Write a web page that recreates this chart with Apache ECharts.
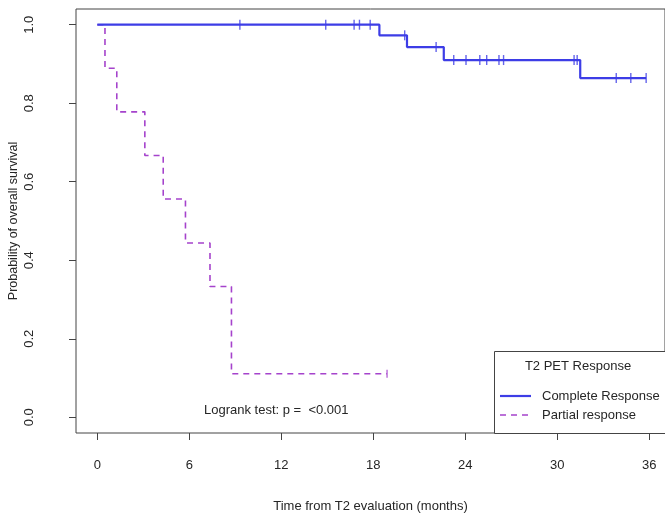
<!DOCTYPE html>
<html>
<head>
<meta charset="utf-8">
<script src="https://cdn.jsdelivr.net/npm/echarts@6/dist/echarts.min.js"></script>
<style>
html,body{margin:0;padding:0;background:#fff;}
#chart{width:665px;height:519px;}
</style>
</head>
<body>
<div id="chart"></div>
<script>
// Kaplan-Meier step points (time in months, survival probability)
var completeTimes = [0, 18.4, 20.2, 22.6, 31.5, 35.8];
var completeSurv  = [1.0, 0.973, 0.943, 0.910, 0.864, 0.864];
var partialTimes  = [0, 0.5, 1.27, 3.1, 4.3, 5.75, 7.35, 8.75, 18.9];
var partialSurv   = [1.0, 0.889, 0.778, 0.667, 0.556, 0.444, 0.333, 0.111, 0.111];
// censored observations
var completeCensorTimes = [9.3, 14.9, 16.75, 17.1, 17.8, 20.05, 22.1, 23.25, 24.05, 24.95, 25.4, 26.2, 26.5, 31.1, 31.3, 33.85, 34.8, 35.8];
var completeCensorSurv  = [1, 1, 1, 1, 1, 0.973, 0.943, 0.910, 0.910, 0.910, 0.910, 0.910, 0.910, 0.910, 0.910, 0.864, 0.864, 0.864];
var partialCensorTimes = [18.9];
var partialCensorSurv  = [0.111];
var xTicks = [0, 6, 12, 18, 24, 30, 36];
var yTicks = [0, 0.2, 0.4, 0.6, 0.8, 1.0];

var blue = '#3d3de6';
var purple = '#a543cc';
var font = '"Liberation Sans", Arial, sans-serif';
var txt = '#262626';

function zip(a, b) { return a.map(function (v, i) { return [v, b[i]]; }); }

var chart = echarts.init(document.getElementById('chart'), null, {renderer: 'canvas'});
chart.setOption({
  animation: false,
  backgroundColor: '#fff',
  grid: {left: 76, right: 0, top: 9, bottom: 86, show: true, borderColor: '#444', borderWidth: 1,
    containLabel: false, outerBoundsMode: 'none'},
  xAxis: {
    type: 'value', min: -1.39, max: 37.03,
    axisLine: {show: false, onZero: false},
    splitLine: {show: false},
    axisTick: {show: true, inside: false, length: 7, customValues: xTicks, lineStyle: {color: '#444'}},
    axisLabel: {customValues: xTicks, margin: 26, color: txt, fontSize: 13, fontFamily: font},
    name: 'Time from T2 evaluation (months)', nameLocation: 'middle', nameGap: 67,
    nameTextStyle: {color: txt, fontSize: 13, fontFamily: font}
  },
  yAxis: {
    type: 'value', min: -0.04, max: 1.04,
    axisLine: {show: false, onZero: false},
    splitLine: {show: false},
    axisTick: {show: true, inside: false, length: 7, customValues: yTicks, lineStyle: {color: '#444'}},
    axisLabel: {customValues: yTicks, rotate: 90, margin: 40, color: txt, fontSize: 13, fontFamily: font,
      formatter: function (v) { return v.toFixed(1); }}
  },
  series: [
    {type: 'line', name: 'Complete Response', step: 'end', data: zip(completeTimes, completeSurv),
      symbol: 'none', lineStyle: {color: blue, width: 2.2}, z: 3},
    {type: 'line', name: 'Partial response', step: 'end', data: zip(partialTimes, partialSurv),
      symbol: 'none', lineStyle: {color: purple, width: 1.6, type: [6, 5]}, z: 2},
    {type: 'scatter', data: zip(completeCensorTimes, completeCensorSurv), symbol: 'rect',
      symbolSize: [1.4, 10], itemStyle: {color: blue}, z: 4},
    {type: 'scatter', data: zip(partialCensorTimes, partialCensorSurv), symbol: 'rect',
      symbolSize: [1.4, 8], itemStyle: {color: purple}, z: 4}
  ],
  graphic: [
    {type: 'text', x: 14, y: 221, rotation: Math.PI / 2, style: {text: 'Probability of overall survival', fill: txt, font: '12.5px ' + font, textAlign: 'center', textVerticalAlign: 'middle'}, z: 11},
    {type: 'rect', shape: {x: 494.5, y: 351.5, width: 175, height: 82}, style: {fill: '#fff', stroke: '#444', lineWidth: 1}, z: 10},
    {type: 'text', x: 578, y: 366, style: {text: 'T2 PET Response', fill: txt, font: '13px ' + font, textAlign: 'center', textVerticalAlign: 'middle'}, z: 11},
    {type: 'line', shape: {x1: 500, y1: 396, x2: 531, y2: 396}, style: {stroke: blue, lineWidth: 2.2}, z: 11},
    {type: 'text', x: 542, y: 396, style: {text: 'Complete Response', fill: txt, font: '13px ' + font, textAlign: 'left', textVerticalAlign: 'middle'}, z: 11},
    {type: 'line', shape: {x1: 500, y1: 415, x2: 531, y2: 415}, style: {stroke: purple, lineWidth: 1.6, lineDash: [6, 5]}, z: 11},
    {type: 'text', x: 542, y: 415, style: {text: 'Partial response', fill: txt, font: '13px ' + font, textAlign: 'left', textVerticalAlign: 'middle'}, z: 11},
    {type: 'text', x: 204, y: 410, style: {text: 'Logrank test: p =  <0.001', fill: txt, font: '13px ' + font, textAlign: 'left', textVerticalAlign: 'middle'}, z: 11}
  ]
});
</script>
</body>
</html>
